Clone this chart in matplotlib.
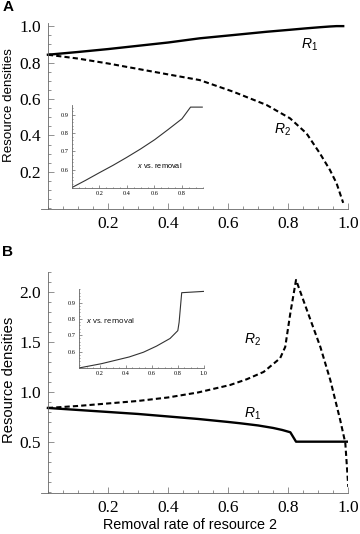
import matplotlib
matplotlib.use('Agg')
import matplotlib.pyplot as plt
from matplotlib.ticker import MultipleLocator, FixedLocator

SERIF = 'Liberation Serif'
SANS = 'Liberation Sans'
plt.rcParams['font.family'] = [SERIF, 'DejaVu Serif']
plt.rcParams['mathtext.fontset'] = 'custom'
plt.rcParams['mathtext.it'] = 'Liberation Sans:italic'
plt.rcParams['mathtext.rm'] = 'Liberation Sans'

# Panel A: main curves
a_x = [0, 0.1, 0.2, 0.3, 0.4, 0.505, 0.617, 0.728, 0.806, 0.861, 0.906, 0.939, 0.961, 0.983]
a_r1 = [0.843, 0.858, 0.874, 0.892, 0.91, 0.933, 0.951, 0.969, 0.98, 0.988, 0.994, 0.998, 1.0, 1.0]
a_r2 = [0.843, 0.822, 0.795, 0.765, 0.735, 0.704, 0.64, 0.567, 0.494, 0.411, 0.30, 0.21, 0.137, 0.03]

# Panel A inset: x vs. removal
ai_x = [0, 0.1, 0.2, 0.3, 0.398, 0.5, 0.602, 0.7, 0.80, 0.862, 0.947]
ai_y = [0.5, 0.54, 0.582, 0.623, 0.666, 0.713, 0.764, 0.82, 0.879, 0.943, 0.943]

# Panel B: main curves
b1_x = [0, 0.1, 0.2, 0.3, 0.4, 0.5, 0.6, 0.64, 0.7, 0.75, 0.78, 0.807, 0.826, 1.0]
b1_y = [0.84, 0.82, 0.80, 0.78, 0.755, 0.73, 0.70, 0.687, 0.665, 0.64, 0.62, 0.597, 0.503, 0.503]
b2_x = [0, 0.1, 0.2, 0.3, 0.4, 0.5, 0.607, 0.662, 0.718, 0.773, 0.79, 0.807, 0.826,
        0.862, 0.907, 0.94, 0.973, 0.99, 1.0]
b2_y = [0.84, 0.86, 0.885, 0.91, 0.945, 0.995, 1.07, 1.127, 1.20, 1.337, 1.45, 1.787, 2.12,
        1.82, 1.45, 1.12, 0.72, 0.49, 0.05]

# Panel B inset
bi_x = [0.04, 0.212, 0.425, 0.535, 0.635, 0.74, 0.80, 0.81, 0.83, 1.0]
bi_y = [0.5, 0.526, 0.567, 0.596, 0.633, 0.68, 0.728, 0.779, 0.96, 0.968]

AXC = '#666666'


def style_axes(ax, major_y, minor_y, tick_fs, major_len, minor_len, pad):
    for s in ('top', 'right'):
        ax.spines[s].set_visible(False)
    if ax.get_xlim()[0] < 0:
        ax.spines['left'].set_position(('data', 0))
    for s in ('left', 'bottom'):
        ax.spines[s].set_color(AXC)
        ax.spines[s].set_linewidth(0.6)
    ax.yaxis.set_major_locator(FixedLocator(major_y))
    ax.yaxis.set_minor_locator(MultipleLocator(minor_y))
    ax.tick_params(which='both', direction='in', color=AXC, width=0.5)
    ax.tick_params(which='major', length=major_len, labelsize=tick_fs, pad=pad)
    ax.tick_params(which='minor', length=minor_len)


fig = plt.figure(figsize=(3.6, 5.34), dpi=100)

# ---------------- Panel A ----------------
axA = fig.add_axes([0.1139, 0.6082, 0.8536, 0.348])
axA.plot(a_x, a_r1, color='black', lw=1.7)
axA.plot(a_x, a_r2, color='black', lw=1.5, linestyle=(0, (2.5, 1.5)))
axA.set_xlim(-0.023, 1.0)
axA.set_ylim(-0.005, 1.015)
axA.xaxis.set_major_locator(FixedLocator([0.2, 0.4, 0.6, 0.8, 1.0]))
axA.xaxis.set_minor_locator(MultipleLocator(0.05))
style_axes(axA, [0.2, 0.4, 0.6, 0.8, 1.0], 0.05, 12.5, 4, 2, 5)
axA.text(0.87, 0.90, '$R_{\\mathit{1}}$', fontsize=10, ha='center', va='center')
axA.text(0.78, 0.43, '$R_{\\mathit{2}}$', fontsize=10, ha='center', va='center')

insA = fig.add_axes([0.199, 0.6485, 0.364, 0.155])
insA.plot(ai_x, ai_y, color='#333333', lw=0.8)
insA.set_xlim(0, 0.95)
insA.set_ylim(0.5, 0.955)
insA.xaxis.set_major_locator(FixedLocator([0.2, 0.4, 0.6, 0.8]))
insA.xaxis.set_minor_locator(MultipleLocator(0.05))
style_axes(insA, [0.6, 0.7, 0.8, 0.9], 0.02, 4.5, 2, 1, 2.5)
insA.patch.set_alpha(0)
insA.text(0.64, 0.62, '$x$ vs. removal', fontsize=5.3, family=SANS,
          ha='center', va='center')

# ---------------- Panel B ----------------
axB = fig.add_axes([0.1139, 0.0768, 0.8536, 0.414])
axB.plot(b1_x, b1_y, color='black', lw=1.7)
axB.plot(b2_x, b2_y, color='black', lw=1.5, linestyle=(0, (2.5, 1.5)))
axB.set_xlim(-0.023, 1.0)
axB.set_ylim(-0.01, 2.2)
axB.xaxis.set_major_locator(FixedLocator([0.2, 0.4, 0.6, 0.8, 1.0]))
axB.xaxis.set_minor_locator(MultipleLocator(0.05))
style_axes(axB, [0.5, 1.0, 1.5, 2.0], 0.1, 12.5, 4, 2, 5)
axB.text(0.68, 1.52, '$R_2$', fontsize=10, ha='center', va='center')
axB.text(0.68, 0.78, '$R_1$', fontsize=10, ha='center', va='center')

insB = fig.add_axes([0.22, 0.311, 0.346, 0.147])
insB.plot(bi_x, bi_y, color='#333333', lw=0.8)
insB.set_xlim(0.04, 1.0)
insB.set_ylim(0.5, 0.98)
insB.xaxis.set_major_locator(FixedLocator([0.2, 0.4, 0.6, 0.8, 1.0]))
insB.xaxis.set_minor_locator(MultipleLocator(0.05))
style_axes(insB, [0.6, 0.7, 0.8, 0.9], 0.02, 4.5, 2, 1, 2.5)
insB.patch.set_alpha(0)
insB.text(0.09, 0.79, '$x$ vs. removal', fontsize=5.6, family='Open Sans',
          ha='left', va='center')

# labels
fig.text(0.006, 0.987, 'A', fontsize=11, fontweight='bold', family=SANS, va='center')
fig.text(0.006, 0.528, 'B', fontsize=11, fontweight='bold', family=SANS, va='center')
fig.text(0.024, 0.803, 'Resource densities', rotation=90, fontsize=9.6, family=SANS,
         ha='center', va='center')
fig.text(0.024, 0.288, 'Resource densities', rotation=90, fontsize=10.6, family=SANS,
         ha='center', va='center')
fig.text(0.528, 0.017, 'Removal rate of resource 2', fontsize=10.4, family=SANS,
         ha='center', va='center')

fig.savefig('out.png', dpi=100)
